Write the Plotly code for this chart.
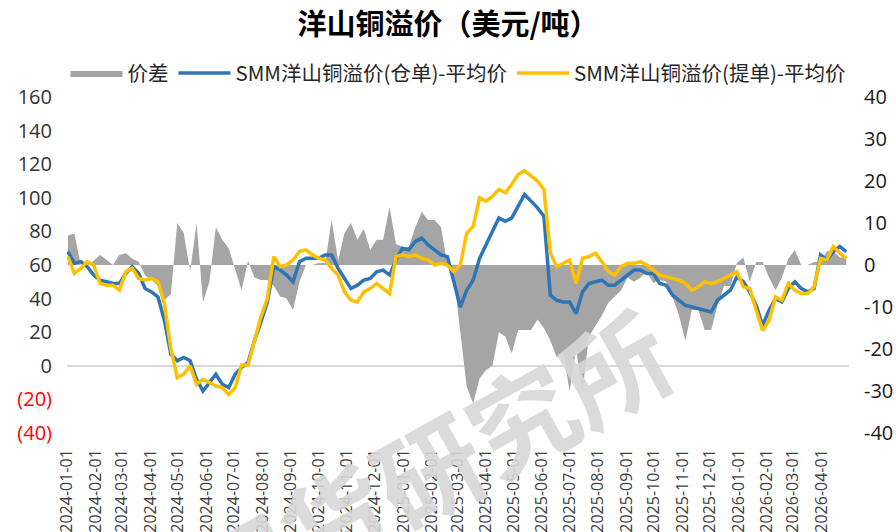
import plotly.graph_objects as go
import pandas as pd

# ---------------- data (weekly samples) ----------------
dates = pd.date_range("2024-01-02", periods=122, freq="7D")

warrant_premium = [  # SMM洋山铜溢价(仓单)-平均价, left axis
    68, 61, 62, 59, 54, 51, 50, 49, 49, 55,
    59, 55, 46, 44, 41, 27, 7, 3, 5, 3,
    -8, -15, -10, -5, -11, -13, -5, -1, 2, 15,
    26, 38, 59, 57, 54, 50, 62, 64, 64, 64,
    66, 66, 58, 52, 46, 48, 51, 52, 56, 57,
    54, 63, 70, 69, 74, 76, 72, 69, 66, 65,
    49, 35, 45, 51, 64, 72, 80, 88, 86, 88,
    95, 102, 98, 94, 89, 42, 39, 38, 38, 31,
    44, 49, 50, 51, 48, 48, 51, 54, 57, 57,
    55, 55, 49, 48, 42, 39, 36, 35, 34, 33,
    32, 39, 42, 45, 53, 50, 44, 36, 24, 33,
    40, 38, 46, 50, 46, 44, 46, 66, 63, 68,
    71, 68,
]

bl_premium = [  # SMM洋山铜溢价(提单)-平均价, left axis
    65, 55, 58, 62, 60, 49, 48, 48, 45, 56,
    58, 52, 51, 52, 50, 37, 10, -7, -5, 0,
    -11, -8, -10, -12, -13, -17, -13, 0.5, 0.5, 14,
    29, 40, 65, 59, 60, 63, 68, 69, 66, 64,
    63, 58, 54, 44, 39, 38, 44, 46, 49, 46,
    43, 65, 66, 65, 66, 64, 63, 60, 61, 60,
    56, 60, 79, 83, 100, 98, 101, 105, 103, 108,
    114, 116, 113, 110, 105, 67, 59, 61, 63, 49,
    64, 65, 67, 62, 56, 54, 59, 61, 61, 62,
    60, 57, 54, 53, 52, 51, 49, 45, 47, 50,
    49, 50, 52, 54, 56, 47, 46, 33, 21, 27,
    41, 39, 49, 45, 43, 43, 47, 64, 63, 71,
    67, 64,
]

spread = [  # 价差, right axis
    7, 7.5, 0, 0, 1, 2.4, 1.2, 0, 2.4, 2.8,
    1.5, 0.8, -2.5, -3.5, -5, -8.3, -7, 10, 7.6, -1.5,
    10, -8.8, -4, 9, 6, 4, -1, -6, 1, -3,
    -3.6, -3.6, -5, -7.5, -8, -10.7, -4, 0, 0, 0.5,
    0.5, 10.7, 1, 7.6, 10, 6, 8.6, 3.6, 6, 6,
    13.8, 5, 4.3, 4.3, 9, 12.6, 10.7, 10.7, 9, 0,
    -3, -16, -29, -33, -27, -25, -24, -16, -17, -21,
    -15.5, -15.5, -15.5, -13, -15, -18, -22, -21, -30, -20,
    -30, -17, -14.5, -12, -9, -7.6, -6, -3, -4, -3,
    -1.6, -4.3, -3.5, -4, -7.6, -12, -18, -10.7, -10.7, -15.5,
    -15.5, -9.5, -5, -5, 0.5, 1.8, -4, 0.7, 0.7, -3,
    -6, -3, 1.5, 3.6, 0, 0, 0.7, 0.7, 3.3, 3.3,
    1.8, 1.8,
]

month_ticks = pd.date_range("2024-01-01", "2026-04-01", freq="MS")
left_tick_vals = [-40, -20, 0, 20, 40, 60, 80, 100, 120, 140, 160]
left_tick_text = ["<span style='color:#FF0000'>(40)</span>",
                  "<span style='color:#FF0000'>(20)</span>",
                  "0", "20", "40", "60", "80", "100", "120", "140", "160"]
right_tick_vals = [-40, -30, -20, -10, 0, 10, 20, 30, 40]
right_tick_text = ["-40", "-30", "-20", "-10", "0", "10", "20", "30", "40"]

names = ["价差", "SMM洋山铜溢价(仓单)-平均价", "SMM洋山铜溢价(提单)-平均价"]
title_text = "洋山铜溢价（美元/吨）"
watermark = "期货研究所"

# ---------------- figure ----------------
CJK = "Noto Sans CJK SC"
NUM = "Open Sans"

fig = go.Figure()
fig.add_trace(go.Scatter(
    x=dates, y=spread, name=names[0], yaxis="y",
    mode="lines", fill="tozeroy", fillcolor="#A5A5A5",
    line=dict(width=0, color="#A5A5A5"),
))
fig.add_trace(go.Scatter(
    x=dates, y=warrant_premium, name=names[1], yaxis="y2",
    mode="lines", line=dict(width=3.5, color="#2E75B6"),
))
fig.add_trace(go.Scatter(
    x=dates, y=bl_premium, name=names[2], yaxis="y2",
    mode="lines", line=dict(width=3.5, color="#FFC000"),
))

fig.update_layout(
    width=896, height=532,
    margin=dict(l=67, r=47, t=97, b=99),
    paper_bgcolor="white", plot_bgcolor="white",
    title=dict(text=f"<b>{title_text}</b>", x=0.5, xanchor="center",
               y=1 - 25 / 532, yanchor="middle", yref="container",
               font=dict(family=CJK, size=29, color="#000000")),
    legend=dict(orientation="h", x=0.5, xanchor="center", y=1.071,
                yanchor="middle", itemwidth=52, traceorder="normal",
                font=dict(family=CJK, size=20.5, color="#262626"),
                bgcolor="rgba(0,0,0,0)"),
    xaxis=dict(type="date", range=["2024-01-01", "2026-05-01"],
               tickvals=month_ticks, tickformat="%Y-%m-%d", tickangle=-90,
               showgrid=False, showline=False, zeroline=False, ticks="",
               ticklabelstandoff=12, automargin=False,
               tickfont=dict(family=NUM, size=16, color="#404040")),
    yaxis=dict(side="right", range=[-40, 40], tickvals=right_tick_vals,
               ticktext=right_tick_text,
               showgrid=False, zeroline=False, showline=False, ticks="",
               ticklabelstandoff=14, automargin=False,
               tickfont=dict(family=NUM, size=20, color="#1a1a1a")),
    yaxis2=dict(overlaying="y", side="left", range=[-40, 160],
                tickvals=left_tick_vals, ticktext=left_tick_text,
                showgrid=False, showline=False, ticks="",
                zeroline=True, zerolinecolor="#D9D9D9", zerolinewidth=1.5,
                ticklabelstandoff=14, automargin=False,
                tickfont=dict(family=NUM, size=20, color="#333333")),
    showlegend=True,
)

fig.add_annotation(
    text=f"<b>{watermark}</b>", xref="paper", yref="paper",
    x=(427 - 67) / 782, y=(433 - 467) / 336, xanchor="center", yanchor="middle",
    textangle=-29, showarrow=False,
    font=dict(family=CJK, size=106, color="rgba(215,215,215,0.9)"),
)

fig.write_html("out.html",
               config={"displayModeBar": False},
               post_script="document.body.style.margin='0px';")
